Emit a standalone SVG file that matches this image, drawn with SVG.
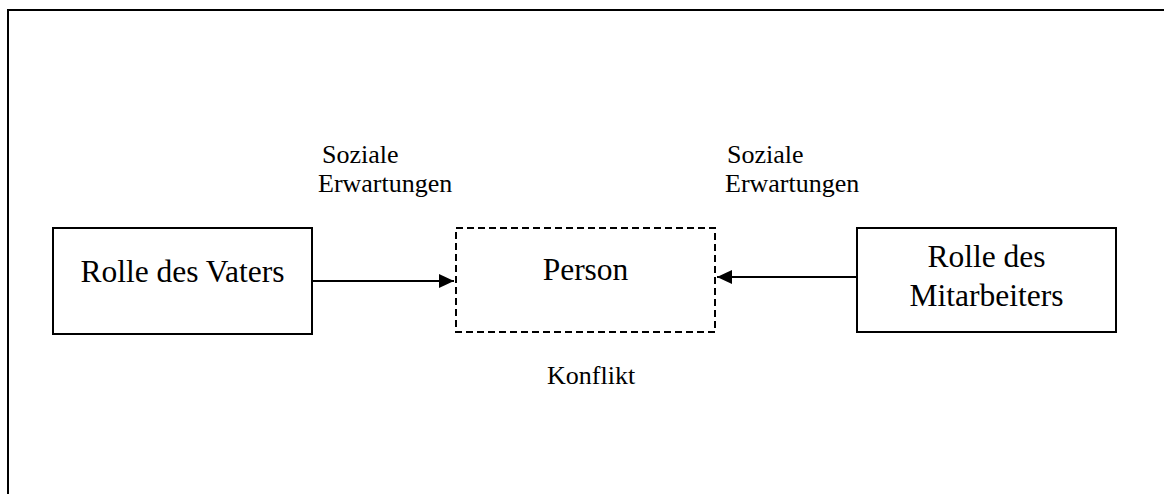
<svg xmlns="http://www.w3.org/2000/svg" width="1164" height="494" viewBox="0 0 1164 494">
  <style>
    .frame { fill: none; stroke: #000; stroke-width: 2; }
    .box { fill: #fff; stroke: #000; stroke-width: 2; }
    .dashed { fill: none; stroke: #000; stroke-width: 2; stroke-dasharray: 7 4; }
    .edge { fill: none; stroke: #000; stroke-width: 2; }
    text { font-family: 'Liberation Serif', 'Times New Roman', 'DejaVu Serif', serif; fill: #000; }
    .big { font-size: 31.5px; }
    .small { font-size: 26px; }
  </style>
  <defs>
    <marker id="arrow" markerWidth="15" markerHeight="14" refX="15" refY="7" orient="auto" markerUnits="userSpaceOnUse">
      <path d="M0,0 L15,7 L0,14 Z" fill="#000"/>
    </marker>
  </defs>
  <rect width="1164" height="494" fill="#fff"/>
  <!-- outer frame: top and left edges only -->
  <path class="frame" d="M8,494 L8,10 L1164,10"/>

  <g id="connectors">
    <line class="edge" x1="312" y1="281" x2="454" y2="281" marker-end="url(#arrow)"/>
    <line class="edge" x1="857" y1="277" x2="717" y2="277" marker-end="url(#arrow)"/>
  </g>

  <g id="vater">
    <rect class="box" x="53" y="228" width="259" height="106"/>
    <text class="big" x="182.5" y="282" text-anchor="middle">Rolle des Vaters</text>
  </g>

  <g id="person">
    <rect class="dashed" x="456" y="228" width="259" height="104"/>
    <text class="big" x="585.5" y="280" text-anchor="middle">Person</text>
  </g>

  <g id="mitarbeiter">
    <rect class="box" x="857" y="228" width="259" height="104"/>
    <text class="big" x="986.5" y="267" text-anchor="middle">Rolle des</text>
    <text class="big" x="986.5" y="306" text-anchor="middle">Mitarbeiters</text>
  </g>

  <g id="label-left">
    <text class="small" x="322" y="163">Soziale</text>
    <text class="small" x="318" y="192">Erwartungen</text>
  </g>
  <g id="label-right">
    <text class="small" x="727" y="163">Soziale</text>
    <text class="small" x="725" y="192">Erwartungen</text>
  </g>
  <g id="konflikt">
    <text class="small" x="547" y="384">Konflikt</text>
  </g>
</svg>
